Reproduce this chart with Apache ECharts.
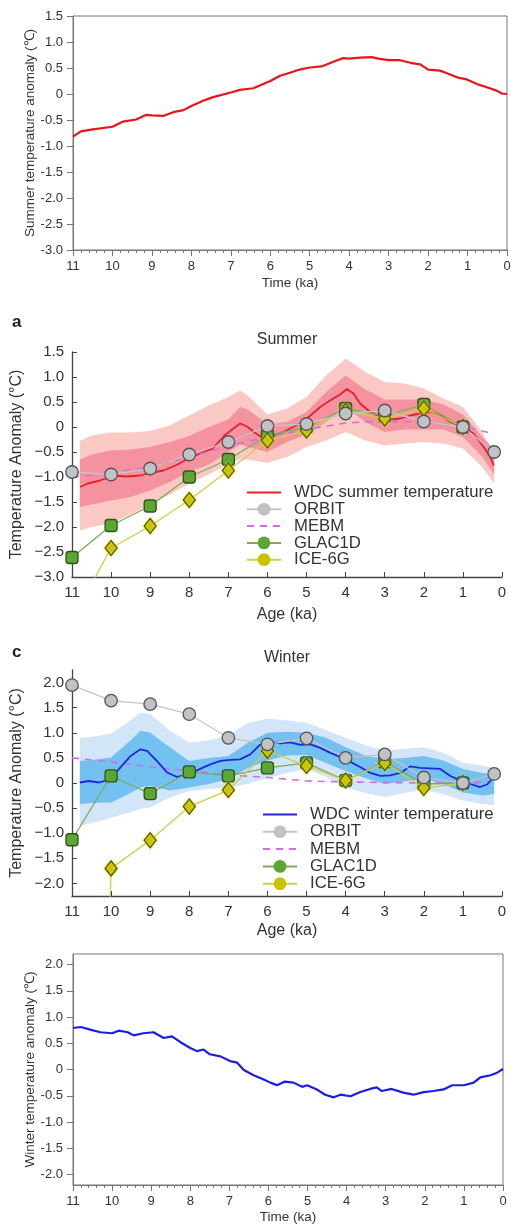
<!DOCTYPE html>
<html><head><meta charset="utf-8">
<script src="https://cdn.jsdelivr.net/npm/echarts@6/dist/echarts.min.js"></script>
<style>html,body{margin:0;padding:0;background:#fff}#chart{width:511px;height:1225px}</style>
</head><body><div id="chart"></div>
<script>
// ---------- Panel 1: summer temperature anomaly (top) ----------
const sumTopAge = [11,10.8,10.5,10,9.73,9.4,9.14,9,8.7,8.46,8.2,8,7.7,7.45,7,6.77,6.43,6,5.75,5.5,5.25,5,4.7,4.4,4.15,4,3.72,3.43,3.26,3,2.71,2.45,2.2,2,1.7,1.52,1.27,1.02,0.76,0.51,0.25,0.13,0];
const sumTopVal = [-0.82,-0.72,-0.68,-0.63,-0.53,-0.49,-0.40,-0.41,-0.42,-0.35,-0.31,-0.23,-0.13,-0.06,0.03,0.08,0.11,0.25,0.35,0.41,0.47,0.51,0.53,0.62,0.69,0.68,0.70,0.71,0.68,0.65,0.65,0.60,0.57,0.47,0.45,0.40,0.32,0.28,0.19,0.13,0.06,0.01,0.0];

// ---------- Panel 4: winter temperature anomaly (bottom) ----------
const winBotAge = [11,10.8,10.56,10.3,10,9.83,9.6,9.45,9.2,8.94,8.68,8.47,8.25,8,7.83,7.66,7.5,7.23,6.98,6.8,6.63,6.38,6.12,5.95,5.78,5.58,5.36,5.14,5.01,4.76,4.55,4.33,4.16,3.9,3.65,3.4,3.23,3.1,2.85,2.55,2.29,2.03,1.78,1.52,1.3,1.0,0.75,0.58,0.32,0.15,0];
const winBotVal = [0.79,0.81,0.76,0.71,0.69,0.74,0.71,0.65,0.69,0.71,0.60,0.63,0.52,0.41,0.35,0.38,0.29,0.25,0.16,0.13,-0.01,-0.11,-0.19,-0.25,-0.30,-0.23,-0.25,-0.33,-0.30,-0.38,-0.48,-0.53,-0.48,-0.51,-0.43,-0.37,-0.34,-0.41,-0.37,-0.44,-0.48,-0.43,-0.41,-0.38,-0.30,-0.30,-0.25,-0.15,-0.11,-0.06,0.01];

// ---------- Panel a: Summer ----------
const wdcSumAge = [10.79,10.6,10.28,9.95,9.6,9.25,9,8.66,8.3,8,7.7,7.4,7.1,6.87,6.7,6.52,6.35,6.1,5.93,5.67,5.42,5.16,4.9,4.65,4.4,4.14,3.97,3.8,3.63,3.37,3.11,2.86,2.6,2.35,2.1,1.83,1.58,1.32,1.0,0.73,0.47,0.3,0.21];
const wdcSumVal = [-1.2,-1.13,-1.07,-0.97,-0.99,-0.97,-0.92,-0.87,-0.75,-0.62,-0.52,-0.43,-0.17,-0.03,0.07,0.01,-0.10,-0.23,-0.20,-0.13,-0.03,0.07,0.23,0.40,0.53,0.65,0.76,0.67,0.47,0.30,0.20,0.15,0.17,0.23,0.27,0.30,0.23,0.10,0.0,-0.13,-0.40,-0.60,-0.77];
const sumBandAge = [10.8,10.5,10,9.5,9,8.5,8,7.5,7,6.7,6.5,6,5.5,5,4.5,4,3.5,3,2.5,2,1.5,1,0.5,0.2];
const sumOuterHi = [-0.28,-0.17,-0.11,-0.11,-0.08,0.03,0.23,0.43,0.60,0.73,0.63,0.25,0.37,0.60,1.03,1.37,1.10,0.90,0.87,0.77,0.57,0.40,-0.10,-0.60];
const sumOuterLo = [-2.07,-2.00,-1.93,-1.75,-1.55,-1.35,-1.13,-0.95,-0.73,-0.65,-0.65,-0.72,-0.60,-0.40,-0.27,-0.10,-0.27,-0.37,-0.33,-0.30,-0.33,-0.43,-0.80,-1.13];
const sumInnerHi = [-0.65,-0.55,-0.47,-0.45,-0.40,-0.30,-0.18,0.0,0.15,0.40,0.35,0.05,0.10,0.30,0.70,1.03,0.75,0.55,0.55,0.55,0.45,0.25,-0.20,-0.45];
const sumInnerLo = [-1.60,-1.55,-1.47,-1.40,-1.27,-1.10,-0.90,-0.75,-0.50,-0.35,-0.40,-0.50,-0.30,-0.15,0.10,0.40,0.10,-0.10,-0.05,-0.05,-0.05,-0.20,-0.60,-0.95];
const sumMebmAge = [11,10,9,8,7,6,5,4,3,2,1,0.3];
const sumMebmVal = [-1.0,-0.92,-0.8,-0.6,-0.38,-0.2,-0.05,0.08,0.12,0.1,0.02,-0.12];
const sumOrbitAge = [11,10,9,8,7,6,5,4,3,2,1,0.2];
const sumOrbitVal = [-0.9,-0.95,-0.83,-0.55,-0.3,0.02,0.06,0.27,0.33,0.11,0.0,-0.5];
const modelAge = [11,10,9,8,7,6,5,4,3,2,1];
const sumGlacVal = [-2.61,-1.97,-1.58,-1.0,-0.65,-0.17,0.0,0.37,0.22,0.45,0.0];
const sumIceVal = [-3.86,-2.42,-1.98,-1.46,-0.87,-0.27,-0.07,0.32,0.17,0.37,0.0];

// ---------- Panel c: Winter ----------
const wdcWinAge = [10.8,10.57,10.3,10.02,9.76,9.5,9.25,9.08,8.83,8.57,8.31,8,7.72,7.46,7.2,6.95,6.7,6.44,6.18,5.93,5.67,5.42,5.16,4.9,4.65,4.39,4.14,3.88,3.63,3.37,3.11,2.86,2.6,2.35,2.09,1.83,1.58,1.32,1.07,0.81,0.56,0.38,0.21];
const wdcWinVal = [0.01,0.04,0.01,0.08,0.31,0.54,0.67,0.64,0.44,0.21,0.12,0.18,0.28,0.37,0.44,0.46,0.47,0.57,0.77,0.81,0.79,0.81,0.76,0.77,0.70,0.60,0.52,0.42,0.32,0.20,0.14,0.15,0.20,0.33,0.30,0.29,0.28,0.14,0.05,-0.02,-0.08,-0.03,0.12];
const winBandAge = [10.8,10.5,10,9.5,9.25,9,8.5,8,7.5,7,6.5,6,5.5,5,4.5,4,3.5,3,2.5,2,1.5,1,0.5,0.2];
const winOuterHi = [0.90,0.92,0.98,1.25,1.40,1.38,1.04,0.80,0.85,0.94,1.20,1.28,1.25,1.20,1.05,0.90,0.75,0.64,0.68,0.71,0.60,0.41,0.35,0.30];
const winOuterLo = [-0.85,-0.80,-0.69,-0.58,-0.52,-0.49,-0.29,-0.16,-0.12,-0.09,-0.02,0.10,0.20,0.28,0.12,-0.09,-0.20,-0.28,-0.20,-0.14,-0.22,-0.35,-0.42,-0.45];
const winInnerHi = [0.44,0.46,0.51,0.85,1.04,1.00,0.71,0.44,0.50,0.54,0.80,1.00,1.02,1.00,0.90,0.71,0.55,0.48,0.50,0.54,0.45,0.28,0.20,0.18];
const winInnerLo = [-0.42,-0.40,-0.39,-0.20,-0.09,-0.06,-0.15,-0.09,-0.02,0.08,0.30,0.45,0.55,0.56,0.40,0.24,0.10,-0.02,0.03,0.08,-0.02,-0.19,-0.25,-0.22];
const winMebmAge = [11,10,9,8,7,6,5,4,3,2,1,0.3];
const winMebmVal = [0.5,0.42,0.32,0.24,0.16,0.11,0.04,0.02,0.01,0.0,0.0,0.02];
const winOrbitAge = [11,10,9,8,7,6,5,4,3,2,1,0.2];
const winOrbitVal = [1.95,1.64,1.57,1.37,0.9,0.77,0.89,0.5,0.57,0.11,0.0,0.18];
const winGlacVal = [-1.13,0.14,-0.21,0.22,0.14,0.30,0.40,0.05,0.42,-0.02,0.0];
const winIceVal = [-28,-1.7,-1.14,-0.47,-0.14,0.64,0.34,0.05,0.40,-0.10,0.0];

// tick label values
const yTicksWinter = [-2,-1.5,-1,-0.5,0,0.5,1,1.5,2];

// ---------- helpers ----------
const FONT = "'Liberation Sans', Arial, Helvetica, sans-serif";
const pairs = (xs, ys) => xs.map((x, i) => [x, ys[i]]);
const fmtHyphen = v => Math.abs(v) < 1e-9 ? '0' : v.toFixed(1);
const fmtMinus = v => Math.abs(v) < 1e-9 ? '0' : (v < 0 ? '\u2212' + Math.abs(v).toFixed(1) : v.toFixed(1));

function band(xi, ages, lo, hi, color, z) {
  return {
    type: 'custom', xAxisIndex: xi, yAxisIndex: xi, z: z, silent: true, clip: true,
    data: ages.map((a, i) => [a, lo[i], hi[i]]),
    encode: { x: 0, y: [1, 2] },
    renderItem: function (params, api) {
      if (params.dataIndex !== 0) return null;
      const pts = [];
      for (let i = 0; i < ages.length; i++) pts.push(api.coord([ages[i], hi[i]]));
      for (let i = ages.length - 1; i >= 0; i--) pts.push(api.coord([ages[i], lo[i]]));
      return { type: 'polygon', shape: { points: pts }, style: { fill: color } };
    }
  };
}
function plainLine(name, xi, xs, ys, color, width, z, type) {
  return {
    name: name, type: 'line', xAxisIndex: xi, yAxisIndex: xi, z: z,
    data: pairs(xs, ys), symbol: 'none', showSymbol: false, silent: true,
    itemStyle: { color: color },
    lineStyle: { color: color, width: width, type: type || 'solid' },
    animation: false
  };
}
function markerLine(name, xi, xs, ys, sym, size, fill, border, lineColor, z, extra) {
  return {
    name: name, type: 'line', xAxisIndex: xi, yAxisIndex: xi, z: z,
    symbol: 'circle', symbolSize: size,
    data: xs.map((x, i) => ({ value: [x, ys[i]], symbol: sym })),
    itemStyle: Object.assign({ color: fill, borderColor: border, borderWidth: 1.3, opacity: 1 }, extra || {}),
    lineStyle: { color: lineColor, width: 1.3 },
    silent: true, animation: false
  };
}

// axes
function boxXAxis(gi, nameGap) {
  return {
    gridIndex: gi, type: 'value', min: 0, max: 11, interval: 1, inverse: true, position: 'bottom',
    axisLine: { show: true, onZero: false, lineStyle: { color: '#777', width: 1 } },
    axisTick: { show: true, inside: false, length: 6, lineStyle: { color: '#777' } },
    minorTick: { show: true, splitNumber: 5, length: 3, lineStyle: { color: '#777' } },
    axisLabel: { fontSize: 13, color: '#333', margin: 10, fontFamily: FONT },
    splitLine: { show: false }, minorSplitLine: { show: false },
    name: 'Time (ka)', nameLocation: 'middle', nameGap: nameGap, nameMoveOverlap: false,
    nameTextStyle: { fontSize: 13.5, color: '#333', fontFamily: FONT }
  };
}
function boxYAxis(gi, min, max, name, custom) {
  const ax = {
    gridIndex: gi, type: 'value', min: min, max: max, position: 'left',
    axisLine: { show: true, onZero: false, lineStyle: { color: '#777', width: 1 } },
    axisTick: { show: true, inside: false, length: 6, lineStyle: { color: '#777' } },
    axisLabel: { fontSize: 13, color: '#333', margin: 10, formatter: fmtHyphen, fontFamily: FONT },
    splitLine: { show: false },
    name: name, nameLocation: 'middle', nameGap: 36, nameMoveOverlap: false,
    nameTextStyle: { fontSize: 13.5, color: '#333', fontFamily: FONT }
  };
  if (custom) { ax.axisLabel.customValues = custom; ax.axisTick.customValues = custom; }
  else { ax.interval = 0.5; }
  return ax;
}
function figXAxis(gi, nameGap) {
  return {
    gridIndex: gi, type: 'value', min: 0, max: 11, interval: 1, inverse: true, position: 'bottom',
    axisLine: { show: true, onZero: false, lineStyle: { color: '#444', width: 1.3 } },
    axisTick: { show: true, inside: true, length: 5, lineStyle: { color: '#444' } },
    axisLabel: { fontSize: 15, color: '#333', margin: 8, fontFamily: FONT },
    splitLine: { show: false },
    name: 'Age (ka)', nameLocation: 'middle', nameGap: nameGap, nameMoveOverlap: false,
    nameTextStyle: { fontSize: 16, color: '#333', fontFamily: FONT }
  };
}
function figYAxis(gi, min, max, custom) {
  const ax = {
    gridIndex: gi, type: 'value', min: min, max: max, position: 'left',
    axisLine: { show: true, onZero: false, lineStyle: { color: '#444', width: 1.3 } },
    axisTick: { show: true, inside: true, length: 5, lineStyle: { color: '#444' } },
    axisLabel: { fontSize: 15, color: '#333', margin: 8, formatter: fmtMinus, fontFamily: FONT },
    splitLine: { show: false },
    name: 'Temperature Anomaly (\u00B0C)', nameLocation: 'middle', nameGap: 47, nameMoveOverlap: false,
    nameTextStyle: { fontSize: 16, color: '#333', fontFamily: FONT }
  };
  if (custom) { ax.axisLabel.customValues = custom; ax.axisTick.customValues = custom; }
  else { ax.interval = 0.5; }
  return ax;
}

const C = {
  red: '#e8202a', blue: '#2424e0', mebm: '#d070dc',
  orbitFill: '#c2c2c4', orbitBorder: '#50555c', orbitLine: '#c4c4c4',
  glacFill: '#5ea634', glacBorder: '#2c5418', glacLine: '#7aab5a',
  iceFill: '#c8c400', iceBorder: '#5a5800', iceLine: '#cfcc48',
  sumOuter: '#fbc9c4', sumInner: '#f4939f', winOuter: '#d3e5f8', winInner: '#72c1f0'
};
const noSym = { color: 'rgba(0,0,0,0)', borderWidth: 0 };

const option = {
  animation: false,
  textStyle: { fontFamily: FONT },
  title: [
    { text: 'a', left: 12, top: 314, padding: 0, textStyle: { fontSize: 17, fontWeight: 'bold', color: '#222', fontFamily: FONT } },
    { text: 'Summer', left: 287, top: 332, padding: 0, textAlign: 'center', textStyle: { fontSize: 16, fontWeight: 'normal', color: '#333', fontFamily: FONT } },
    { text: 'c', left: 12, top: 644, padding: 0, textStyle: { fontSize: 17, fontWeight: 'bold', color: '#222', fontFamily: FONT } },
    { text: 'Winter', left: 287, top: 650, padding: 0, textAlign: 'center', textStyle: { fontSize: 16, fontWeight: 'normal', color: '#333', fontFamily: FONT } }
  ],
  grid: [
    { left: 73, top: 16, width: 434, height: 234, show: true, borderColor: '#777', borderWidth: 1, backgroundColor: 'transparent', outerBoundsMode: 'none' },
    { left: 72, top: 352, width: 430, height: 225, outerBoundsMode: 'none' },
    { left: 72, top: 670, width: 430, height: 226, outerBoundsMode: 'none' },
    { left: 73, top: 954, width: 430, height: 231, show: true, borderColor: '#777', borderWidth: 1, backgroundColor: 'transparent', outerBoundsMode: 'none' }
  ],
  xAxis: [boxXAxis(0, 26), figXAxis(1, 30), figXAxis(2, 27), boxXAxis(3, 25)],
  yAxis: [
    boxYAxis(0, -3, 1.5, 'Summer temperature anomaly (\u2103)'),
    figYAxis(1, -3, 1.5),
    figYAxis(2, -2.25, 2.25, yTicksWinter),
    boxYAxis(3, -2.2, 2.2, 'Winter temperature anomaly (\u2103)', yTicksWinter)
  ],
  legend: [
    {
      orient: 'vertical', left: 246, top: 484, itemWidth: 34, itemHeight: 16, itemGap: -0.2,
      selectedMode: false, padding: 0,
      textStyle: { fontSize: 16.7, lineHeight: 16, color: '#333', fontFamily: FONT, padding: [0, 0, 0, 8] },
      data: [
        { name: 'WDC summer temperature', itemStyle: noSym },
        { name: 'ORBIT', itemStyle: { borderWidth: 0 } },
        { name: 'MEBM', itemStyle: noSym },
        { name: 'GLAC1D', itemStyle: { borderWidth: 0 } },
        { name: 'ICE-6G', itemStyle: { borderWidth: 0, shadowBlur: 0 } }
      ]
    },
    {
      orient: 'vertical', left: 262, top: 806, itemWidth: 34, itemHeight: 16, itemGap: 0.3,
      selectedMode: false, padding: 0,
      textStyle: { fontSize: 16.7, lineHeight: 16, color: '#333', fontFamily: FONT, padding: [0, 0, 0, 8] },
      data: [
        { name: 'WDC winter temperature', itemStyle: noSym },
        { name: 'ORBIT', itemStyle: { borderWidth: 0 } },
        { name: 'MEBM', itemStyle: noSym },
        { name: 'GLAC1D', itemStyle: { borderWidth: 0 } },
        { name: 'ICE-6G', itemStyle: { borderWidth: 0, shadowBlur: 0 } }
      ]
    }
  ],
  series: [
    // panel 1
    plainLine('Summer anomaly', 0, sumTopAge, sumTopVal, '#e8141c', 2.2, 3),
    // panel a
    band(1, sumBandAge, sumOuterLo, sumOuterHi, C.sumOuter, 1),
    band(1, sumBandAge, sumInnerLo, sumInnerHi, C.sumInner, 1.5),
    plainLine('WDC summer temperature', 1, wdcSumAge, wdcSumVal, C.red, 1.8, 3),
    plainLine('MEBM', 1, sumMebmAge, sumMebmVal, C.mebm, 1.6, 3.5, [7, 6]),
    markerLine('GLAC1D', 1, modelAge, sumGlacVal, 'roundRect', 12, C.glacFill, C.glacBorder, C.glacLine, 4),
    markerLine('ICE-6G', 1, modelAge, sumIceVal, 'diamond', [12, 15], C.iceFill, C.iceBorder, C.iceLine, 5, { shadowBlur: 3, shadowColor: 'rgba(225,225,40,0.9)' }),
    markerLine('ORBIT', 1, sumOrbitAge, sumOrbitVal, 'circle', 12.5, C.orbitFill, C.orbitBorder, C.orbitLine, 6),
    // panel c
    band(2, winBandAge, winOuterLo, winOuterHi, C.winOuter, 1),
    band(2, winBandAge, winInnerLo, winInnerHi, C.winInner, 1.5),
    plainLine('MEBM', 2, winMebmAge, winMebmVal, C.mebm, 1.6, 3, [7, 6]),
    plainLine('WDC winter temperature', 2, wdcWinAge, wdcWinVal, C.blue, 1.8, 3.5),
    markerLine('GLAC1D', 2, modelAge, winGlacVal, 'roundRect', 12, C.glacFill, C.glacBorder, C.glacLine, 4),
    markerLine('ICE-6G', 2, modelAge, winIceVal, 'diamond', [12, 15], C.iceFill, C.iceBorder, C.iceLine, 5, { shadowBlur: 3, shadowColor: 'rgba(225,225,40,0.9)' }),
    markerLine('ORBIT', 2, winOrbitAge, winOrbitVal, 'circle', 12.5, C.orbitFill, C.orbitBorder, C.orbitLine, 6),
    // panel 4
    plainLine('Winter anomaly', 3, winBotAge, winBotVal, '#1c1ce8', 2.2, 3)
  ]
};

const chart = echarts.init(document.getElementById('chart'), null, { renderer: 'canvas' });
chart.setOption(option);
</script></body></html>
